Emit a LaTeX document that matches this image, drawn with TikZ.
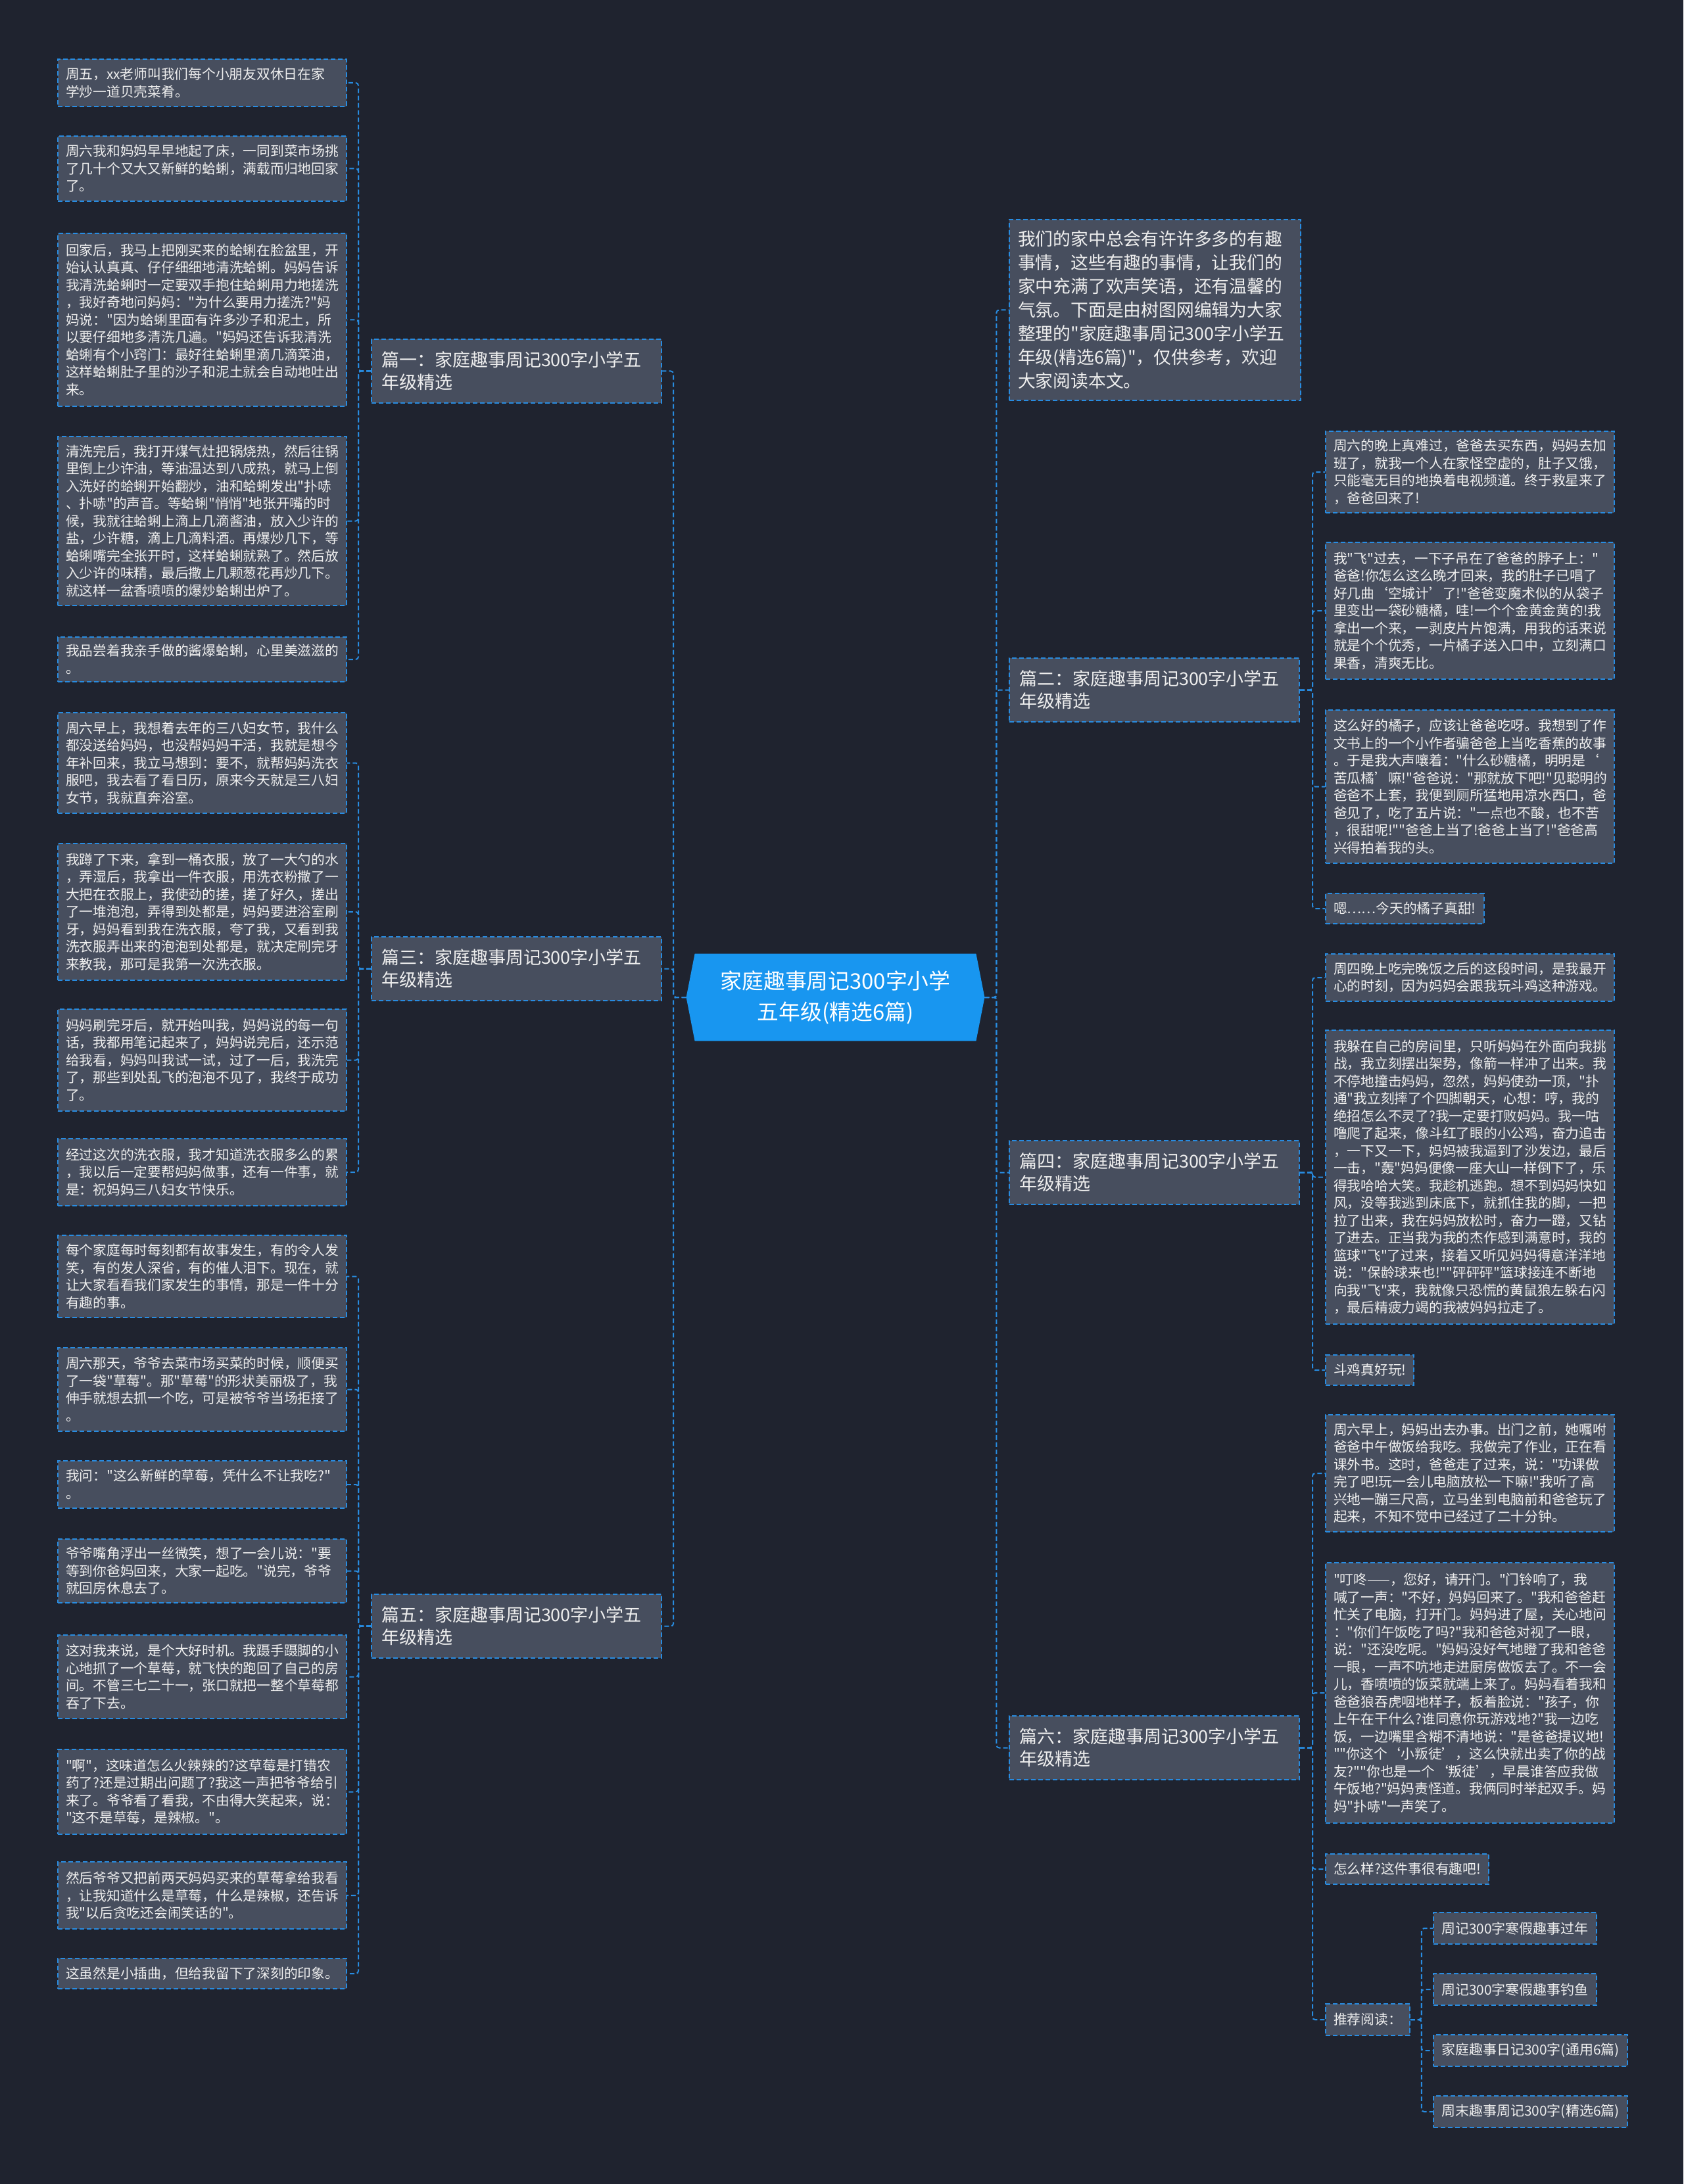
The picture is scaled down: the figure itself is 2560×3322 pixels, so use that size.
\documentclass[tikz,border=0pt]{standalone}
\usepackage{fontspec}
\newfontfamily\cjkfont{Noto Sans CJK SC}
\setmainfont{Noto Sans CJK SC}
\usetikzlibrary{calc}
\pgfdeclarelayer{background}
\pgfsetlayers{background,main}
\definecolor{bgc}{RGB}{31,35,47}
\definecolor{boxc}{RGB}{71,78,94}
\definecolor{linec}{RGB}{40,140,225}
\definecolor{cblue}{RGB}{24,150,240}
\definecolor{txtc}{RGB}{238,238,238}
\tikzset{
  conn/.style={draw=linec, line width=1pt, dash pattern=on 3.5pt off 2pt, rounded corners=2pt},
  box/.style={draw=linec, line width=1pt, dash pattern=on 3.5pt off 2pt, fill=boxc, text=txtc, anchor=north west, inner xsep=6pt, inner ysep=0pt, align=left},
  leaf/.style={box, text width=207.5pt, font={\cjkfont\fontsize{10.375}{13.25}\selectfont}},
  sleaf/.style={box, font={\cjkfont\fontsize{10.375}{13.25}\selectfont}, minimum height=23pt},
  branch/.style={box, inner xsep=7.5pt, text width=205.5pt, minimum height=48.5pt, font={\cjkfont\fontsize{13.5}{17}\selectfont}},
  intro/.style={box, inner xsep=6.5pt, text width=208.5pt, font={\cjkfont\fontsize{13.4}{18}\selectfont}},
  rec/.style={box, font={\cjkfont\fontsize{10.5}{13.25}\selectfont}, minimum height=24pt},
  centernode/.style={text=white, align=center, minimum width=226.5pt, minimum height=66pt, inner sep=0pt, font={\cjkfont\fontsize{16.4}{23.3}\selectfont}}
}
\begin{document}
\begin{tikzpicture}[x=0.5pt,y=-0.5pt]
\useasboundingbox (0,0) rectangle (2560,3322);
\begin{pgfonlayer}{background}
\fill[bgc] (0,0) rectangle (2560,3322);
\end{pgfonlayer}

% center
\node[centernode] (c) at (1270.5,1517) {家庭趣事周记300字小学\\五年级(精选6篇)};
\begin{pgfonlayer}{background}
\fill[cblue] (c.west) -- ($(c.north west)+(13,0)$) -- ($(c.north east)+(-13,0)$) -- (c.east) -- ($(c.south east)+(-13,0)$) -- ($(c.south west)+(13,0)$) -- cycle;
\end{pgfonlayer}

% branches
\node[branch] (b1) at (564,515) {篇一：家庭趣事周记300字小学五\\年级精选};
\node[branch] (b3) at (564,1424) {篇三：家庭趣事周记300字小学五\\年级精选};
\node[branch] (b5) at (564,2424) {篇五：家庭趣事周记300字小学五\\年级精选};
\node[intro, minimum height=137.5pt] (intro) at (1534,333) {我们的家中总会有许许多多的有趣\\事情，这些有趣的事情，让我们的\\家中充满了欢声笑语，还有温馨的\\气氛。下面是由树图网编辑为大家\\整理的"家庭趣事周记300字小学五\\年级(精选6篇)"，仅供参考，欢迎\\大家阅读本文。};
\node[branch] (b2) at (1534,1000) {篇二：家庭趣事周记300字小学五\\年级精选};
\node[branch] (b4) at (1534,1734) {篇四：家庭趣事周记300字小学五\\年级精选};
\node[branch] (b6) at (1534,2609) {篇六：家庭趣事周记300字小学五\\年级精选};

% left leaves, 篇一
\node[leaf, minimum height=36pt] (l1a) at (87,89) {周五，xx老师叫我们每个小朋友双休日在家\\学炒一道贝壳菜肴。};
\node[leaf, minimum height=49.5pt] (l1b) at (87,206) {周六我和妈妈早早地起了床，一同到菜市场挑\\了几十个又大又新鲜的蛤蜊，满载而归地回家\\了。};
\node[leaf, minimum height=131.5pt] (l1c) at (87,354) {回家后，我马上把刚买来的蛤蜊在脸盆里，开\\始认认真真、仔仔细细地清洗蛤蜊。妈妈告诉\\我清洗蛤蜊时一定要双手抱住蛤蜊用力地搓洗\\，我好奇地问妈妈："为什么要用力搓洗?"妈\\妈说："因为蛤蜊里面有许多沙子和泥土，所\\以要仔细地多清洗几遍。"妈妈还告诉我清洗\\蛤蜊有个小窍门：最好往蛤蜊里滴几滴菜油，\\这样蛤蜊肚子里的沙子和泥土就会自动地吐出\\来。};
\node[leaf, minimum height=128.5pt] (l1d) at (87,663) {清洗完后，我打开煤气灶把锅烧热，然后往锅\\里倒上少许油，等油温达到八成热，就马上倒\\入洗好的蛤蜊开始翻炒，油和蛤蜊发出"扑哧\\、扑哧"的声音。等蛤蜊"悄悄"地张开嘴的时\\候，我就往蛤蜊上滴上几滴酱油，放入少许的\\盐，少许糖，滴上几滴料酒。再爆炒几下，等\\蛤蜊嘴完全张开时，这样蛤蜊就熟了。然后放\\入少许的味精，最后撒上几颗葱花再炒几下。\\就这样一盆香喷喷的爆炒蛤蜊出炉了。};
\node[leaf, minimum height=34pt] (l1e) at (87,968) {我品尝着我亲手做的酱爆蛤蜊，心里美滋滋的\\。};

% 篇三
\node[leaf, minimum height=76.5pt] (l3a) at (87,1083) {周六早上，我想着去年的三八妇女节，我什么\\都没送给妈妈，也没帮妈妈干活，我就是想今\\年补回来，我立马想到：要不，就帮妈妈洗衣\\服吧，我去看了看日历，原来今天就是三八妇\\女节，我就直奔浴室。};
\node[leaf, minimum height=104pt] (l3b) at (87,1282) {我蹲了下来，拿到一桶衣服，放了一大勺的水\\，弄湿后，我拿出一件衣服，用洗衣粉撒了一\\大把在衣服上，我使劲的搓，搓了好久，搓出\\了一堆泡泡，弄得到处都是，妈妈要进浴室刷\\牙，妈妈看到我在洗衣服，夸了我，又看到我\\洗衣服弄出来的泡泡到处都是，就决定刷完牙\\来教我，那可是我第一次洗衣服。};
\node[leaf, minimum height=77.5pt] (l3c) at (87,1534) {妈妈刷完牙后，就开始叫我，妈妈说的每一句\\话，我都用笔记起来了，妈妈说完后，还示范\\给我看，妈妈叫我试一试，过了一后，我洗完\\了，那些到处乱飞的泡泡不见了，我终于成功\\了。};
\node[leaf, minimum height=51pt] (l3d) at (87,1731) {经过这次的洗衣服，我才知道洗衣服多么的累\\，我以后一定要帮妈妈做事，还有一件事，就\\是：祝妈妈三八妇女节快乐。};

% 篇五
\node[leaf, minimum height=62.5pt] (l5a) at (87,1878) {每个家庭每时每刻都有故事发生，有的令人发\\笑，有的发人深省，有的催人泪下。现在，就\\让大家看看我们家发生的事情，那是一件十分\\有趣的事。};
\node[leaf, minimum height=63.5pt] (l5b) at (87,2049) {周六那天，爷爷去菜市场买菜的时候，顺便买\\了一袋"草莓"。那"草莓"的形状美丽极了，我\\伸手就想去抓一个吃，可是被爷爷当场拒接了\\。};
\node[leaf, minimum height=36pt] (l5c) at (87,2221) {我问："这么新鲜的草莓，凭什么不让我吃?"\\。};
\node[leaf, minimum height=48.5pt] (l5d) at (87,2340) {爷爷嘴角浮出一丝微笑，想了一会儿说："要\\等到你爸妈回来，大家一起吃。"说完，爷爷\\就回房休息去了。};
\node[leaf, minimum height=63.5pt] (l5e) at (87,2486) {这对我来说，是个大好时机。我蹑手蹑脚的小\\心地抓了一个草莓，就飞快的跑回了自己的房\\间。不管三七二十一，张口就把一整个草莓都\\吞了下去。};
\node[leaf, minimum height=64.5pt] (l5f) at (87,2660) {"啊"，这味道怎么火辣辣的?这草莓是打错农\\药了?还是过期出问题了?我这一声把爷爷给引\\来了。爷爷看了看我，不由得大笑起来，说：\\"这不是草莓，是辣椒。"。};
\node[leaf, minimum height=51pt] (l5g) at (87,2831) {然后爷爷又把前两天妈妈买来的草莓拿给我看\\，让我知道什么是草莓，什么是辣椒，还告诉\\我"以后贪吃还会闹笑话的"。};
\node[leaf, minimum height=23pt] (l5h) at (87,2978) {这虽然是小插曲，但给我留下了深刻的印象。};

% right leaves 篇二
\node[leaf, minimum height=62pt] (r2a) at (2015,655) {周六的晚上真难过，爸爸去买东西，妈妈去加\\班了，就我一个人在家怪空虚的，肚子又饿，\\只能毫无目的地换着电视频道。终于救星来了\\，爸爸回来了!};
\node[leaf, minimum height=104pt] (r2b) at (2015,824) {我"飞"过去，一下子吊在了爸爸的脖子上："\\爸爸!你怎么这么晚才回来，我的肚子已唱了\\好几曲‘空城计’了!"爸爸变魔术似的从袋子\\里变出一袋砂糖橘，哇!一个个金黄金黄的!我\\拿出一个来，一剥皮片片饱满，用我的话来说\\就是个个优秀，一片橘子送入口中，立刻满口\\果香，清爽无比。};
\node[leaf, minimum height=116.5pt] (r2c) at (2015,1079) {这么好的橘子，应该让爸爸吃呀。我想到了作\\文书上的一个小作者骗爸爸上当吃香蕉的故事\\。于是我大声嚷着："什么砂糖橘，明明是‘\\苦瓜橘’嘛!"爸爸说："那就放下吧!"见聪明的\\爸爸不上套，我便到厕所猛地用凉水西口，爸\\爸见了，吃了五片说："一点也不酸，也不苦\\，很甜呢!""爸爸上当了!爸爸上当了!"爸爸高\\兴得拍着我的头。};
\node[sleaf, minimum width=111.5pt] (r2d) at (2015,1358) {嗯……今天的橘子真甜!};

% 篇四
\node[leaf, minimum height=36pt] (r4a) at (2015,1450) {周四晚上吃完晚饭之后的这段时间，是我最开\\心的时刻，因为妈妈会跟我玩斗鸡这种游戏。};
\node[leaf, minimum height=223.5pt] (r4b) at (2015,1566) {我躲在自己的房间里，只听妈妈在外面向我挑\\战，我立刻摆出架势，像箭一样冲了出来。我\\不停地撞击妈妈，忽然，妈妈使劲一顶，"扑\\通"我立刻摔了个四脚朝天，心想：哼，我的\\绝招怎么不灵了?我一定要打败妈妈。我一咕\\噜爬了起来，像斗红了眼的小公鸡，奋力追击\\，一下又一下，妈妈被我逼到了沙发边，最后\\一击，"轰"妈妈便像一座大山一样倒下了，乐\\得我哈哈大笑。我趁机逃跑。想不到妈妈快如\\风，没等我逃到床底下，就抓住我的脚，一把\\拉了出来，我在妈妈放松时，奋力一蹬，又钻\\了进去。正当我为我的杰作感到满意时，我的\\篮球"飞"了过来，接着又听见妈妈得意洋洋地\\说："保龄球来也!""砰砰砰"篮球接连不断地\\向我"飞"来，我就像只恐慌的黄鼠狼左躲右闪\\，最后精疲力竭的我被妈妈拉走了。};
\node[sleaf, minimum width=65pt] (r4c) at (2015,2060) {斗鸡真好玩!};

% 篇六
\node[leaf, minimum height=89pt] (r6a) at (2015,2151) {周六早上，妈妈出去办事。出门之前，她嘱咐\\爸爸中午做饭给我吃。我做完了作业，正在看\\课外书。这时，爸爸走了过来，说："功课做\\完了吧!玩一会儿电脑放松一下嘛!"我听了高\\兴地一蹦三尺高，立马坐到电脑前和爸爸玩了\\起来，不知不觉中已经过了二十分钟。};
\node[leaf, minimum height=198pt] (r6b) at (2015,2376) {"叮咚——，您好，请开门。"门铃响了，我\\喊了一声："不好，妈妈回来了。"我和爸爸赶\\忙关了电脑，打开门。妈妈进了屋，关心地问\\："你们午饭吃了吗?"我和爸爸对视了一眼，\\说："还没吃呢。"妈妈没好气地瞪了我和爸爸\\一眼，一声不吭地走进厨房做饭去了。不一会\\儿，香喷喷的饭菜就端上来了。妈妈看着我和\\爸爸狼吞虎咽地样子，板着脸说："孩子，你\\上午在干什么?谁同意你玩游戏地?"我一边吃\\饭，一边嘴里含糊不清地说："是爸爸提议地!\\""你这个‘小叛徒’，这么快就出卖了你的战\\友?""你也是一个‘叛徒’，早晨谁答应我做\\午饭地?"妈妈责怪道。我俩同时举起双手。妈\\妈"扑哧"一声笑了。};
\node[sleaf, minimum width=123pt] (r6c) at (2015,2819) {怎么样?这件事很有趣吧!};
\node[sleaf, minimum width=63.5pt, minimum height=24pt] (r6d) at (2015,3047) {推荐阅读：};

% recommendations
\node[rec, minimum width=122.5pt] (k1) at (2179,2908) {周记300字寒假趣事过年};
\node[rec, minimum width=122.5pt] (k2) at (2179,3001) {周记300字寒假趣事钓鱼};
\node[rec, minimum width=146pt] (k3) at (2179,3094) {家庭趣事日记300字(通用6篇)};
\node[rec, minimum width=146pt] (k4) at (2179,3187) {周末趣事周记300字(精选6篇)};

% connectors: center
\foreach \t in {b1,b3,b5} \draw[conn] (c.west) -- ++(-19.5,0) |- (\t.east);
\foreach \t in {intro,b2,b4,b6} \draw[conn] (c.east) -- ++(18,0) |- (\t.west);
% branch -> leaves
\foreach \t in {l1a,l1b,l1c,l1d,l1e} \draw[conn] (b1.west) -- ++(-19,0) |- (\t.east);
\foreach \t in {l3a,l3b,l3c,l3d} \draw[conn] (b3.west) -- ++(-19,0) |- (\t.east);
\foreach \t in {l5a,l5b,l5c,l5d,l5e,l5f,l5g,l5h} \draw[conn] (b5.west) -- ++(-19,0) |- (\t.east);
\foreach \t in {r2a,r2b,r2c,r2d} \draw[conn] (b2.east) -- ++(19,0) |- (\t.west);
\foreach \t in {r4a,r4b,r4c} \draw[conn] (b4.east) -- ++(19,0) |- (\t.west);
\foreach \t in {r6a,r6b,r6c,r6d} \draw[conn] (b6.east) -- ++(19,0) |- (\t.west);
\foreach \t in {k1,k2,k3,k4} \draw[conn] (r6d.east) -- ++(17,0) |- (\t.west);
\end{tikzpicture}
\end{document}
